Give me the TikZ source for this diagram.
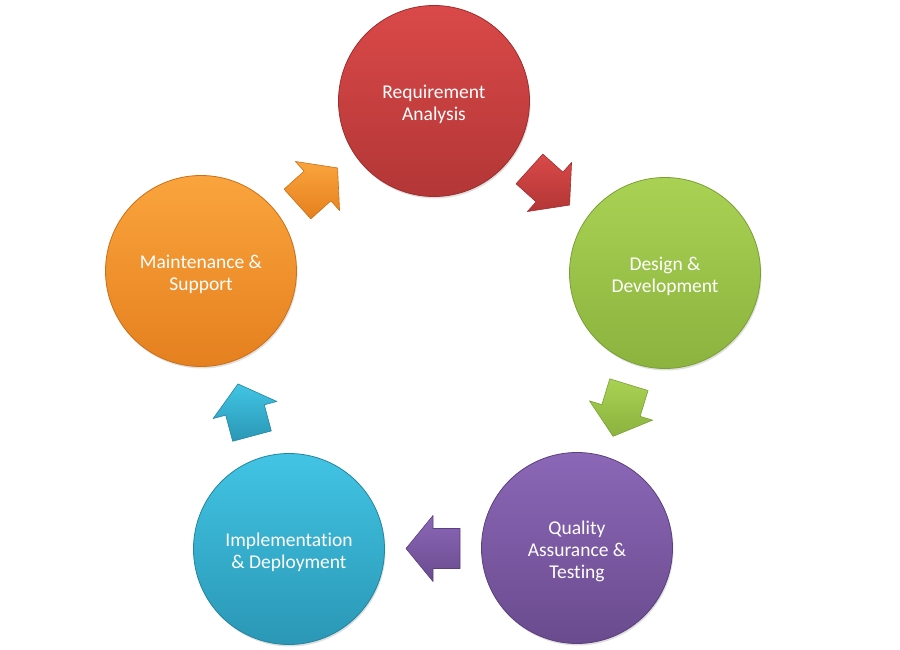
\documentclass[tikz,border=0pt]{standalone}
\usepackage{fontspec}
\setmainfont[Ligatures=NoCommon]{Carlito}
\usetikzlibrary{calc,shadows}
\definecolor{redT}{HTML}{DA4949}\definecolor{redB}{HTML}{B33636}\definecolor{redD}{HTML}{A02C2C}
\definecolor{grnT}{HTML}{A9D254}\definecolor{grnB}{HTML}{8BB33E}\definecolor{grnD}{HTML}{7AA035}
\definecolor{purT}{HTML}{8B67B7}\definecolor{purB}{HTML}{6A4B8E}\definecolor{purD}{HTML}{5B3F7E}
\definecolor{bluT}{HTML}{42C4E4}\definecolor{bluB}{HTML}{2A97B5}\definecolor{bluD}{HTML}{23859F}
\definecolor{orgT}{HTML}{FAA43D}\definecolor{orgB}{HTML}{E5801F}\definecolor{orgD}{HTML}{CC6F17}
\tikzset{
  phase/.style={circle, minimum size=191pt, inner sep=0pt, line width=0.8pt,
    drop shadow={opacity=0.25, shadow xshift=1pt, shadow yshift=-2pt}},
  lbl/.style={align=center, text=white, inner sep=0pt, font=\fontsize{19.5}{22}\selectfont},
  phred/.style={phase, top color=redT, bottom color=redB, draw=redD},
  phgrn/.style={phase, top color=grnT, bottom color=grnB, draw=grnD},
  phpur/.style={phase, top color=purT, bottom color=purB, draw=purD},
  phblu/.style={phase, top color=bluT, bottom color=bluB, draw=bluD},
  phorg/.style={phase, top color=orgT, bottom color=orgB, draw=orgD},
  blockarrow/.pic={
    \path[pic actions] (-27,-20) -- (0,-20) -- (0,-33) -- (27,0) -- (0,33) -- (0,20) -- (-27,20) -- cycle;
  },
  arred/.style={top color=redT, bottom color=redB, draw=redD, line width=0.6pt, line join=round},
  argrn/.style={top color=grnT, bottom color=grnB, draw=grnD, line width=0.6pt, line join=round},
  arpur/.style={top color=purT, bottom color=purB, draw=purD, line width=0.6pt, line join=round},
  arblu/.style={top color=bluT, bottom color=bluB, draw=bluD, line width=0.6pt, line join=round},
  arorg/.style={top color=orgT, bottom color=orgB, draw=orgD, line width=0.6pt, line join=round},
}
\begin{document}
\begin{tikzpicture}[x=1pt,y=-1pt]
\useasboundingbox (0,0) rectangle (900,650);
\node[phred] (req) at (434,101) {};
\node[phgrn] (des) at (665,273) {};
\node[phpur] (qa) at (577,548) {};
\node[phblu] (imp) at (289,549) {};
\node[phorg] (mnt) at (201,271) {};
\node[lbl] (reqt) at ([yshift=-3pt]req.center) {Requirement\\Analysis};
\node[lbl] (dest) at ([yshift=-3pt]des.center) {Design \&\\Development};
\node[lbl] (qat) at ([yshift=-3pt]qa.center) {Quality\\Assurance \&\\Testing};
\node[lbl] (impt) at ([yshift=-3pt]imp.center) {Implementation\\\& Deployment};
\node[lbl] (mntt) at ([yshift=-3pt]mnt.center) {Maintenance \&\\Support};
\pic[rotate=-42, arred] at ($(req)!0.5!(des)$) {blockarrow};
\pic[rotate=-107, argrn] at ($(des)!0.5!(qa)$) {blockarrow};
\pic[rotate=180, arpur] at ($(qa)!0.5!(imp)$) {blockarrow};
\pic[rotate=105, arblu] at ($(imp)!0.5!(mnt)$) {blockarrow};
\pic[rotate=42, arorg] at ($(mnt)!0.5!(req)$) {blockarrow};
\end{tikzpicture}
\end{document}
